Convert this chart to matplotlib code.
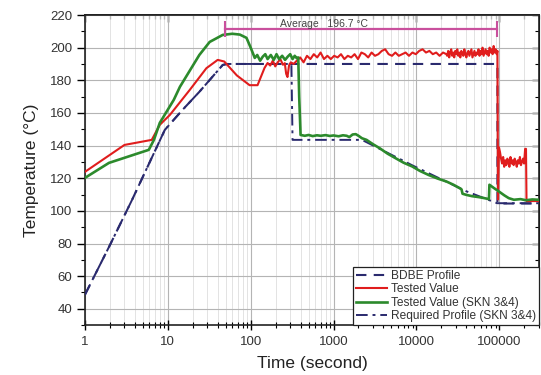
import numpy as np
import matplotlib
matplotlib.use("Agg")
import matplotlib.pyplot as plt
from matplotlib.ticker import FixedLocator, FixedFormatter, LogLocator, MultipleLocator, NullFormatter

plt.rcParams['font.family'] = ['Liberation Sans', 'DejaVu Sans']

# Axis ticks
x_ticks = [1, 10, 100, 1000, 10000, 100000]
x_tick_labels = ["1", "10", "100", "1000", "10000", "100000"]

# BDBE profile (s, degC)
bdbe_time = [1, 2, 3.7, 9.2, 15, 24, 46, 52, 95000, 95000, 300000]
bdbe_temp = [48.6, 79, 106.7, 149.6, 161.8, 172.9, 189.4, 190, 190, 104.5, 104.5]

# Required profile (SKN 3&4)
req_time = [1, 2, 3.7, 9.2, 15, 24, 46, 52, 310, 320, 2200, 9000, 40000, 94000, 300000]
req_temp = [48.6, 79, 106.7, 149.6, 161.8, 172.9, 189.4, 190, 190, 143.5, 143.5, 127.8,
            112, 104.7, 104.7]

# Tested value: warm-up
red_time_warm = [1, 3.0, 6.4, 8.0, 10.6, 18.4, 29.2, 40, 48, 68, 97, 121, 147, 160,
                 172, 185, 198, 212, 228, 245, 258, 268, 278, 290, 305, 330]
red_temp_warm = [123.9, 140.4, 143.5, 152.7, 158.8, 174.1, 187.4, 192.5, 191.5, 183, 177, 177,
                 187.6, 190.6, 189, 192, 188.5, 191, 193, 189.5, 190.5, 184, 182, 189, 191, 190]

# Tested value: hold at temperature, logged samples 360 s .. 23000 s
red_hold = [192, 194, 191, 195, 193, 196, 194, 197, 193, 195, 193, 195, 194, 196, 193,
            195, 194, 196, 193, 197, 196, 194, 197, 195, 196, 198, 199, 196, 195, 197,
            195, 196, 197, 195, 197, 196, 198, 199, 197, 198, 196, 197, 195, 197, 196]
# Tested value: hold, dense logging 23500 s .. 93000 s
red_hold_dense = [195, 198, 194, 197, 199, 195, 197, 194, 198, 196, 199, 195, 197, 194, 198,
                  196, 195, 199, 196, 194, 197, 198, 195, 197, 199, 194, 196, 198, 195, 197,
                  196, 199, 195, 198, 196, 200, 195, 197, 199, 196, 198, 195, 200, 197, 199,
                  196, 201, 197, 199, 196]
# Tested value: cool-down step
red_drop_time = [95000, 96500, 99000]
red_drop_temp = [198, 107, 139]
red_low = [136, 132, 129, 133, 127, 131, 128, 132, 130, 127, 133, 129, 131, 128, 132,
           130, 127, 131, 129, 133, 128, 130, 132, 129, 138]
red_end_time = [210000, 213000, 300000]
red_end_temp = [138, 106, 106]

# Tested value (SKN 3&4)
green_time = [1, 1.95, 5.9, 6.8, 8, 11.8, 14, 24, 32, 46, 60, 74, 89, 100, 112, 120, 130,
              140, 150, 160, 175, 190, 205, 220, 240, 260, 280, 300, 320, 340, 360, 375,
              385, 400, 450, 500, 560, 630, 700, 800, 900, 1000, 1150, 1300, 1440, 1550,
              1700, 1850, 2000, 2200, 2500, 3000, 3600, 4500, 5500, 7000, 8900, 11000,
              14000, 18000, 23000, 28000, 33000, 35000, 36000, 40000, 47000, 57000, 66000,
              75000, 76000, 85000, 100000, 115000, 130000, 150000, 180000, 210000, 250000,
              300000]
green_temp = [120.2, 129.4, 137.4, 143.5, 153.9, 168, 176, 195.5, 203.5, 207.8, 208.5, 208,
              206, 200, 193.7, 195.5, 192, 194.5, 196, 193, 195.5, 192.5, 196, 193, 195,
              192.5, 194.5, 196, 193, 195, 193.5, 194, 170, 146.5, 146, 146.5, 145.8, 146.3,
              146, 146.4, 145.9, 146.2, 145.7, 146.3, 146, 145.2, 146.8, 147, 146, 144.5,
              143.5, 140.8, 138.4, 135, 132.5, 129.5, 127.2, 124.5, 122, 119.8, 118, 116,
              114, 113.2, 110.5, 109.8, 109, 108.4, 107.8, 107.2, 116, 114.2, 111.7, 109.5,
              107.8, 106.8, 107.2, 106.5, 107, 106.8]

# Average annotation
avg_start, avg_end, avg_level = 49, 95000, 211.4
avg_label = "Average   196.7 \u00b0C"
avg_label_pos = (760, 214.2)

red_time = np.concatenate([
    red_time_warm,
    np.geomspace(360, 23000, len(red_hold)),
    np.geomspace(23500, 93000, len(red_hold_dense)),
    red_drop_time,
    np.geomspace(102000, 205000, len(red_low)),
    red_end_time,
])
red_temp = np.concatenate([
    red_temp_warm, red_hold, red_hold_dense, red_drop_temp, red_low, red_end_temp,
])

navy = '#2a2a6e'
red = '#e01d1d'
green = '#2c8a2c'
magenta = '#c9509d'

fig = plt.figure(figsize=(5.41, 3.75), dpi=100)
ax = fig.add_axes([0.157, 0.133, 0.839, 0.827])
ax.set_xscale('log')
ax.set_xlim(1, 3e5)
ax.set_ylim(30, 220)

ax.plot(bdbe_time, bdbe_temp, color=navy, lw=1.5, dashes=(5, 3.5), label='BDBE Profile', zorder=3)
ax.plot(red_time, red_temp, color=red, lw=1.5, label='Tested Value', zorder=4)
ax.plot(green_time, green_temp, color=green, lw=1.9, label='Tested Value (SKN 3&4)', zorder=5)
ax.plot(req_time, req_temp, color=navy, lw=1.4, dashes=(6, 2.5, 1.5, 2.5),
        label='Required Profile (SKN 3&4)', zorder=3)

ax.plot([avg_start, avg_end], [avg_level, avg_level], color=magenta, lw=1.6, zorder=6)
ax.plot([avg_start, avg_end], [avg_level, avg_level], ls='none', marker='|',
        markersize=11, mew=1.5, color=magenta, zorder=6)
ax.text(avg_label_pos[0], avg_label_pos[1], avg_label, fontsize=7.5, color='#444444',
        ha='center', va='center', zorder=7)

ax.xaxis.set_major_locator(FixedLocator(x_ticks))
ax.xaxis.set_major_formatter(FixedFormatter(x_tick_labels))
ax.xaxis.set_minor_locator(LogLocator(base=10, subs=np.arange(2, 10), numticks=20))
ax.xaxis.set_minor_formatter(NullFormatter())
ax.yaxis.set_major_locator(MultipleLocator(20))
ax.yaxis.set_minor_locator(MultipleLocator(10))

ax.grid(True, which='major', color='#b4b4b4', lw=0.8)
ax.grid(True, which='minor', axis='x', color='#dedede', lw=0.6)
ax.set_axisbelow(True)

for s in ax.spines.values():
    s.set_linewidth(1.2)
    s.set_color('#222222')

ax.tick_params(axis='x', which='major', direction='inout', length=7, width=1, pad=4,
               labelsize=9.5, labelcolor='#333333', top=False)
ax.tick_params(axis='x', which='minor', direction='inout', length=4, width=0.8, top=False)
ax.tick_params(axis='y', which='major', direction='out', length=6, width=1, pad=3,
               labelsize=9.5, labelcolor='#333333')
ax.tick_params(axis='y', which='minor', direction='out', length=3, width=0.8)

secx = ax.secondary_xaxis('top')
secx.set_xticks(x_ticks)
secx.tick_params(which='major', direction='in', length=5, width=1, labeltop=False)
secx.tick_params(which='minor', direction='in', length=3, width=0.8)
secx.spines['top'].set_linewidth(1.2)

secy = ax.secondary_yaxis('right')
secy.yaxis.set_major_locator(MultipleLocator(20))
secy.yaxis.set_minor_locator(MultipleLocator(10))
secy.tick_params(which='major', direction='in', length=5, width=1, labelright=False)
secy.tick_params(which='minor', direction='in', length=3, width=0.8)

ax.set_xlabel('Time (second)', fontsize=12.5, color='#222222', labelpad=6)
ax.set_ylabel('Temperature (\u00b0C)', fontsize=12.5, color='#222222', labelpad=8)

leg = ax.legend(loc='lower right', bbox_to_anchor=(1.0, 0.0), borderaxespad=0,
                fontsize=8.6, labelspacing=0.12, handlelength=2.6, handletextpad=0.3,
                borderpad=0.25, fancybox=False, framealpha=1)
leg.get_frame().set_edgecolor('#222222')
leg.get_frame().set_linewidth(0.9)
for t in leg.get_texts():
    t.set_color('#333333')

fig.savefig('out.png', dpi=100)
